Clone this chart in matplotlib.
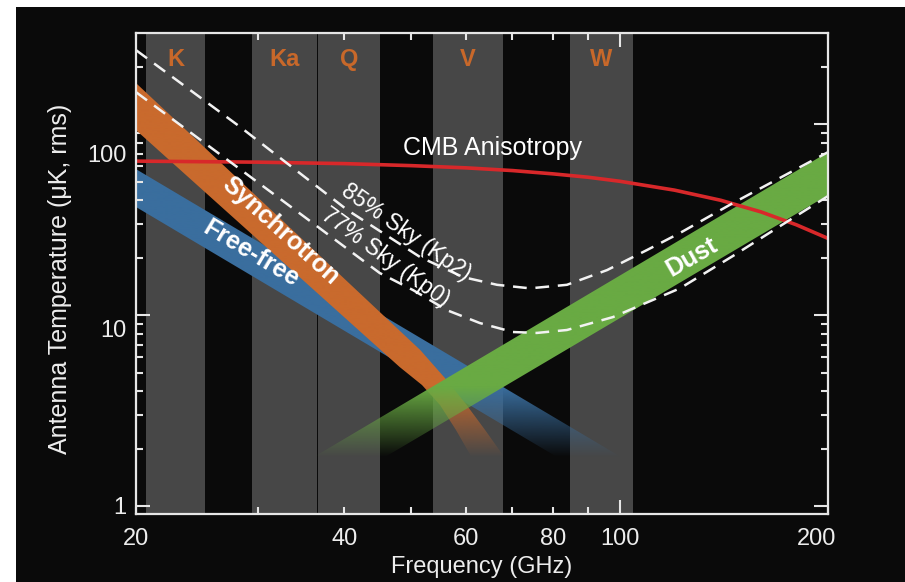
import numpy as np
import matplotlib
matplotlib.use("Agg")
import matplotlib.pyplot as plt
import matplotlib.transforms as mtransforms
from matplotlib.patches import Polygon, Rectangle
from matplotlib.colors import to_rgb

plt.rcParams['font.family'] = ['Liberation Sans', 'DejaVu Sans']

# WMAP frequency bands (GHz)
band_names = ["K", "Ka", "Q", "V", "W"]
band_lo = [20.7, 29.4, 36.7, 53.7, 84.8]
band_hi = [25.2, 36.5, 45.0, 67.8, 104.5]

# CMB anisotropy (uK, antenna temperature)
cmb_freq = [20, 30, 40, 50, 60, 70, 80, 90, 100, 120, 140, 160, 180, 200]
cmb_temp = [64.0, 63.2, 62.1, 60.6, 59.0, 57.1, 54.9, 52.7, 50.2, 45.1, 39.9, 34.7, 29.7, 25.2]

# total foreground, 85% sky (Kp2)
kp2_freq = [20, 28.3, 40.4, 51.5, 59.4, 66.5, 74.2, 83.9, 95.9, 109.5, 122.2, 145.8, 200]
kp2_temp = [244, 96.5, 35.5, 20.1, 15.8, 14.4, 13.8, 14.4, 17.2, 21.9, 26.9, 38.6, 71.3]

# total foreground, 77% sky (Kp0)
kp0_freq = [20, 34.9, 45.0, 50.3, 56.3, 62.8, 70.1, 75.9, 83.9, 97.8, 122.2, 145.8, 172.2, 200]
kp0_temp = [147, 33.0, 16.6, 13.5, 10.6, 9.08, 8.15, 8.06, 8.35, 9.76, 13.8, 20.4, 29.9, 42.0]

# synchrotron band edges
sync_up_freq = [20, 51.5, 55.9, 59.8, 63.9, 68.3]
sync_up_temp = [164, 6.56, 4.68, 3.46, 2.50, 1.78]
sync_lo_freq = [20, 48.1, 51.8, 55.0, 58.0, 61.2]
sync_lo_temp = [93, 5.34, 4.30, 3.38, 2.50, 1.78]

# free-free band edges
ff_up_freq = [20, 101.1]
ff_up_temp = [58.1, 1.78]
ff_lo_freq = [20, 81.7]
ff_lo_temp = [36.8, 1.78]

# dust band edges
dust_up_freq = [35.9, 200]
dust_up_temp = [1.78, 71.3]
dust_lo_freq = [45.5, 200]
dust_lo_temp = [1.78, 42.5]

xtick_vals = [20, 40, 60, 80, 100, 200]
xtick_minor = [30, 50, 70, 90]
ytick_vals = [1, 10, 100]
ytick_minor = [2, 3, 4, 5, 6, 7, 8, 9, 20, 30, 40, 50, 60, 70, 80, 90, 200]

W, H = 905, 582
fig = plt.figure(figsize=(W / 100, H / 100), dpi=100)
fig.patch.set_facecolor("white")
fig.add_artist(Rectangle((16 / W, 0), 1 - 16 / W, 1 - 7 / H, transform=fig.transFigure,
                         facecolor="#0a0a0a", edgecolor="none", zorder=-10))

ax = fig.add_axes([136 / W, 1 - 514 / H, (828 - 136) / W, (514 - 33) / H])
ax.set_facecolor("#0a0a0a")
ax.set_xscale("log")
ax.set_yscale("log")
ylo, yhi = 0.908, 300
ax.set_xlim(20, 200)
ax.set_ylim(ylo, yhi)
ax.autoscale(False)

# grey frequency bands
for lo, hi, name in zip(band_lo, band_hi, band_names):
    ax.axvspan(lo, hi, color="#474747", lw=0, zorder=0.5)
    ax.text(np.sqrt(lo * hi), 0.944, name, transform=ax.get_xaxis_transform(),
            ha="center", va="center", fontsize=17, fontweight="bold", color="#c8682a", zorder=6)


def faded_band(up_f, up_t, lo_f, lo_t, color, z):
    verts = list(zip(up_f, up_t)) + list(zip(lo_f[::-1], lo_t[::-1]))
    poly = Polygon(verts, closed=True, facecolor="none", edgecolor="none")
    ax.add_patch(poly)
    n = 800
    frac = np.linspace(0, 1, n)
    logt = np.log10(ylo) + frac * (np.log10(yhi) - np.log10(ylo))
    alpha = np.clip((logt - np.log10(1.8)) / (np.log10(4.2) - np.log10(1.8)), 0, 1)
    rgba = np.zeros((n, 1, 4))
    rgba[..., :3] = to_rgb(color)
    rgba[:, 0, 3] = alpha
    im = ax.imshow(rgba, extent=(0, 1, 0, 1), transform=ax.transAxes, origin="lower",
                   aspect="auto", interpolation="bilinear", zorder=z)
    im.set_clip_path(poly)


faded_band(ff_up_freq, ff_up_temp, ff_lo_freq, ff_lo_temp, "#3a6e9e", 1)
faded_band(sync_up_freq, sync_up_temp, sync_lo_freq, sync_lo_temp, "#c96a2d", 2)
faded_band(dust_up_freq, dust_up_temp, dust_lo_freq, dust_lo_temp, "#69aa43", 3)

ax.plot(cmb_freq, cmb_temp, color="#d8282a", lw=2.6, zorder=4)
ax.plot(kp2_freq, kp2_temp, color="#f2f2f2", lw=1.8, dashes=(5.5, 3.5), zorder=5)
ax.plot(kp0_freq, kp0_temp, color="#f2f2f2", lw=1.8, dashes=(5.5, 3.5), zorder=5)

# labels on curves
ax.text(65.6, 74.9, "CMB Anisotropy", ha="center", va="center", fontsize=18, color="white", zorder=6)
ax.text(32.4, 27.5, "Synchrotron", rotation=-42, rotation_mode="anchor", ha="center", va="center",
        fontsize=18, fontweight="bold", color="white", zorder=6)
ax.text(29.3, 20.9, "Free-free", rotation=-31, rotation_mode="anchor", ha="center", va="center",
        fontsize=18, fontweight="bold", color="white", zorder=6)
ax.text(127.2, 20.1, "Dust", rotation=30, rotation_mode="anchor", ha="center", va="center",
        fontsize=18, fontweight="bold", color="white", zorder=6)
ax.text(49.1, 27.2, "85% Sky (Kp2)", rotation=-35, rotation_mode="anchor", ha="center", va="center",
        fontsize=16.5, color="white", zorder=6)
ax.text(45.8, 20.1, "77% Sky (Kp0)", rotation=-36, rotation_mode="anchor", ha="center", va="center",
        fontsize=16.5, color="white", zorder=6)

# axes styling
for sp in ax.spines.values():
    sp.set_color("#e6e6e6")
    sp.set_linewidth(1.6)
    sp.set_zorder(7)

ax.set_xticks(xtick_vals)
ax.set_xticklabels([str(v) for v in xtick_vals])
ax.set_xticks(xtick_minor, minor=True)
ax.set_xticklabels([], minor=True)
ax.set_yticks(ytick_vals)
ax.set_yticklabels([str(v) for v in ytick_vals])
ax.set_yticks(ytick_minor, minor=True)
ax.set_yticklabels([], minor=True)

ax.tick_params(which="both", direction="in", top=True, right=True, color="#e6e6e6",
               width=1.5, labelcolor="#ededed", labelsize=17)
ax.tick_params(which="major", length=10)
ax.tick_params(which="minor", length=5)
ax.tick_params(axis="x", which="major", pad=10)
ax.tick_params(axis="y", which="major", pad=7)

for tick, v in zip(ax.xaxis.get_major_ticks(), xtick_vals):
    if v != 100:
        tick.tick1line.set_markersize(5)
        tick.tick2line.set_markersize(5)

# tick label nudges (pixels) as in the original artwork
for lab, dy in zip(ax.get_yticklabels(), [0, -13, -29]):
    lab.set_transform(lab.get_transform() + mtransforms.ScaledTranslation(0, dy / 100, fig.dpi_scale_trans))
xlabs = ax.get_xticklabels()
xlabs[-1].set_transform(xlabs[-1].get_transform() + mtransforms.ScaledTranslation(-11 / 100, 0, fig.dpi_scale_trans))

fig.text(482 / W, 1 - 567 / H, "Frequency (GHz)", ha="center", va="center", fontsize=17, color="#ededed")
fig.text(60 / W, 1 - 279 / H, "Antenna Temperature (μK, rms)", ha="center", va="center",
         rotation=90, fontsize=18, color="#ededed")

fig.savefig("out.png", dpi=100, facecolor=fig.get_facecolor())
